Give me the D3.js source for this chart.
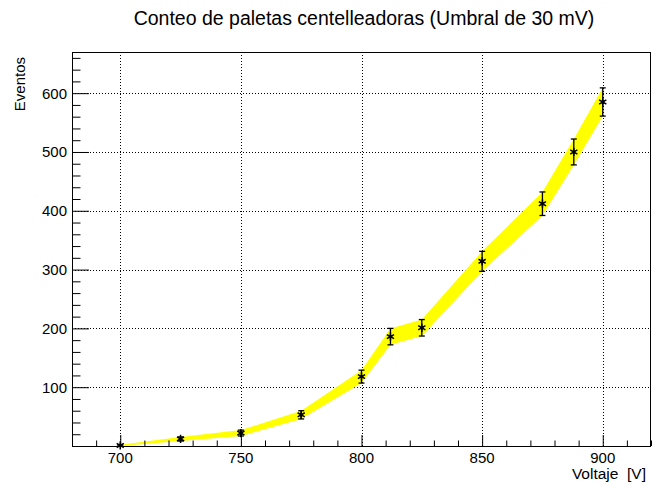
<!DOCTYPE html>
<html lang="es">
<head>
  <meta charset="UTF-8">
  <title>Conteo de paletas centelleadoras</title>
  <script src="https://d3js.org/d3.v7.min.js"></script>
  <style>
    body { margin: 0; background: #fff; }
    text { font-family: "Liberation Sans", Arial, sans-serif; fill: #000; }
  </style>
</head>
<body>
  <script>
    // Data
    const voltages = [700, 725, 750, 775, 800, 812, 825, 850, 875, 888, 900];
    const counts = [1, 12, 22, 53, 118, 186, 201, 314, 412, 500, 585];
    const errors = [1, 3.5, 5, 7, 11, 14, 14, 17, 20, 22, 24];
    const xTicks = [700, 750, 800, 850, 900];
    const yTicks = [100, 200, 300, 400, 500, 600];

    const width = 652, height = 485;
    const frame = { left: 72, right: 651, top: 52, bottom: 446 };

    const svg = d3.select("body").append("svg")
      .attr("width", width)
      .attr("height", height);

    const x = d3.scaleLinear().domain([680, 920]).range([frame.left, frame.right]);
    const y = d3.scaleLinear().domain([0, 670]).range([frame.bottom, frame.top]);

    const pts = voltages.map((v, i) => ({ v, c: counts[i], e: errors[i] }));

    // dotted grid
    const grid = svg.append("g")
      .attr("stroke", "#000")
      .attr("stroke-width", 1)
      .attr("stroke-dasharray", "1,2");
    grid.selectAll(".gx").data(xTicks).enter().append("line")
      .attr("x1", d => Math.round(x(d)) + 0.5).attr("x2", d => Math.round(x(d)) + 0.5)
      .attr("y1", frame.top).attr("y2", frame.bottom);
    grid.selectAll(".gy").data(yTicks).enter().append("line")
      .attr("y1", d => Math.round(y(d)) + 0.5).attr("y2", d => Math.round(y(d)) + 0.5)
      .attr("x1", frame.left).attr("x2", frame.right);

    // yellow error band
    const band = d3.area()
      .x(d => x(d.v))
      .y0(d => y(d.c - d.e))
      .y1(d => y(d.c + d.e));
    svg.append("path")
      .datum(pts)
      .attr("d", band)
      .attr("fill", "#ffff00");

    // axes
    const xAxis = d3.axisBottom(x)
      .tickValues(d3.range(690, 921, 10))
      .tickSize(0)
      .tickFormat("");
    const gx = svg.append("g")
      .attr("transform", `translate(0,${frame.bottom})`)
      .call(xAxis);
    gx.select(".domain").remove();
    gx.selectAll(".tick line")
      .attr("y2", d => xTicks.includes(d) ? -11 : -5.5)
      .attr("stroke", "#000");
    svg.append("g").selectAll("text").data(xTicks).enter().append("text")
      .attr("x", d => x(d))
      .attr("y", frame.bottom + 16.5)
      .attr("text-anchor", "middle")
      .attr("font-size", 15)
      .text(d => d);

    const yAxis = d3.axisLeft(y)
      .tickValues(d3.range(20, 671, 20))
      .tickSize(0)
      .tickFormat("");
    const gy = svg.append("g")
      .attr("transform", `translate(${frame.left},0)`)
      .call(yAxis);
    gy.select(".domain").remove();
    gy.selectAll(".tick line")
      .attr("x2", d => yTicks.includes(d) ? 17 : 8.5)
      .attr("stroke", "#000");
    svg.append("g").selectAll("text").data(yTicks).enter().append("text")
      .attr("x", frame.left - 5)
      .attr("y", d => y(d) + 5.5)
      .attr("text-anchor", "end")
      .attr("font-size", 15)
      .text(d => d);

    // frame
    svg.append("rect")
      .attr("x", frame.left + 0.5).attr("y", frame.top + 0.5)
      .attr("width", frame.right - frame.left - 1)
      .attr("height", frame.bottom - frame.top)
      .attr("fill", "none")
      .attr("stroke", "#000")
      .attr("stroke-width", 1);

    // error bars
    const eb = svg.append("g").attr("stroke", "#000").attr("stroke-width", 1.3);
    pts.forEach(d => {
      const px = x(d.v);
      eb.append("line").attr("x1", px).attr("x2", px).attr("y1", y(d.c - d.e)).attr("y2", y(d.c + d.e));
      eb.append("line").attr("x1", px - 3).attr("x2", px + 3).attr("y1", y(d.c - d.e)).attr("y2", y(d.c - d.e));
      eb.append("line").attr("x1", px - 3).attr("x2", px + 3).attr("y1", y(d.c + d.e)).attr("y2", y(d.c + d.e));
    });

    // asterisk markers
    const star = d3.symbol().type(d3.symbolAsterisk).size(48);
    svg.append("g").selectAll("path").data(pts).enter().append("path")
      .attr("transform", d => `translate(${x(d.v)},${y(d.c)})`)
      .attr("d", star)
      .attr("stroke", "#000")
      .attr("stroke-width", 1.5)
      .attr("fill", "none");
    svg.append("g").selectAll("circle").data(pts).enter().append("circle")
      .attr("cx", d => x(d.v)).attr("cy", d => y(d.c))
      .attr("r", 1.8).attr("fill", "#000");

    // titles
    svg.append("text")
      .attr("x", 364)
      .attr("y", 25)
      .attr("text-anchor", "middle")
      .attr("font-size", 19.5)
      .text("Conteo de paletas centelleadoras (Umbral de 30 mV)");

    svg.append("text")
      .attr("x", 646)
      .attr("y", 479)
      .attr("text-anchor", "end")
      .attr("font-size", 15.5)
      .style("white-space", "pre")
      .text("Voltaje  [V]");

    svg.append("text")
      .attr("transform", "translate(25,57) rotate(-90)")
      .attr("text-anchor", "end")
      .attr("font-size", 15)
      .text("Eventos");
  </script>
</body>
</html>
